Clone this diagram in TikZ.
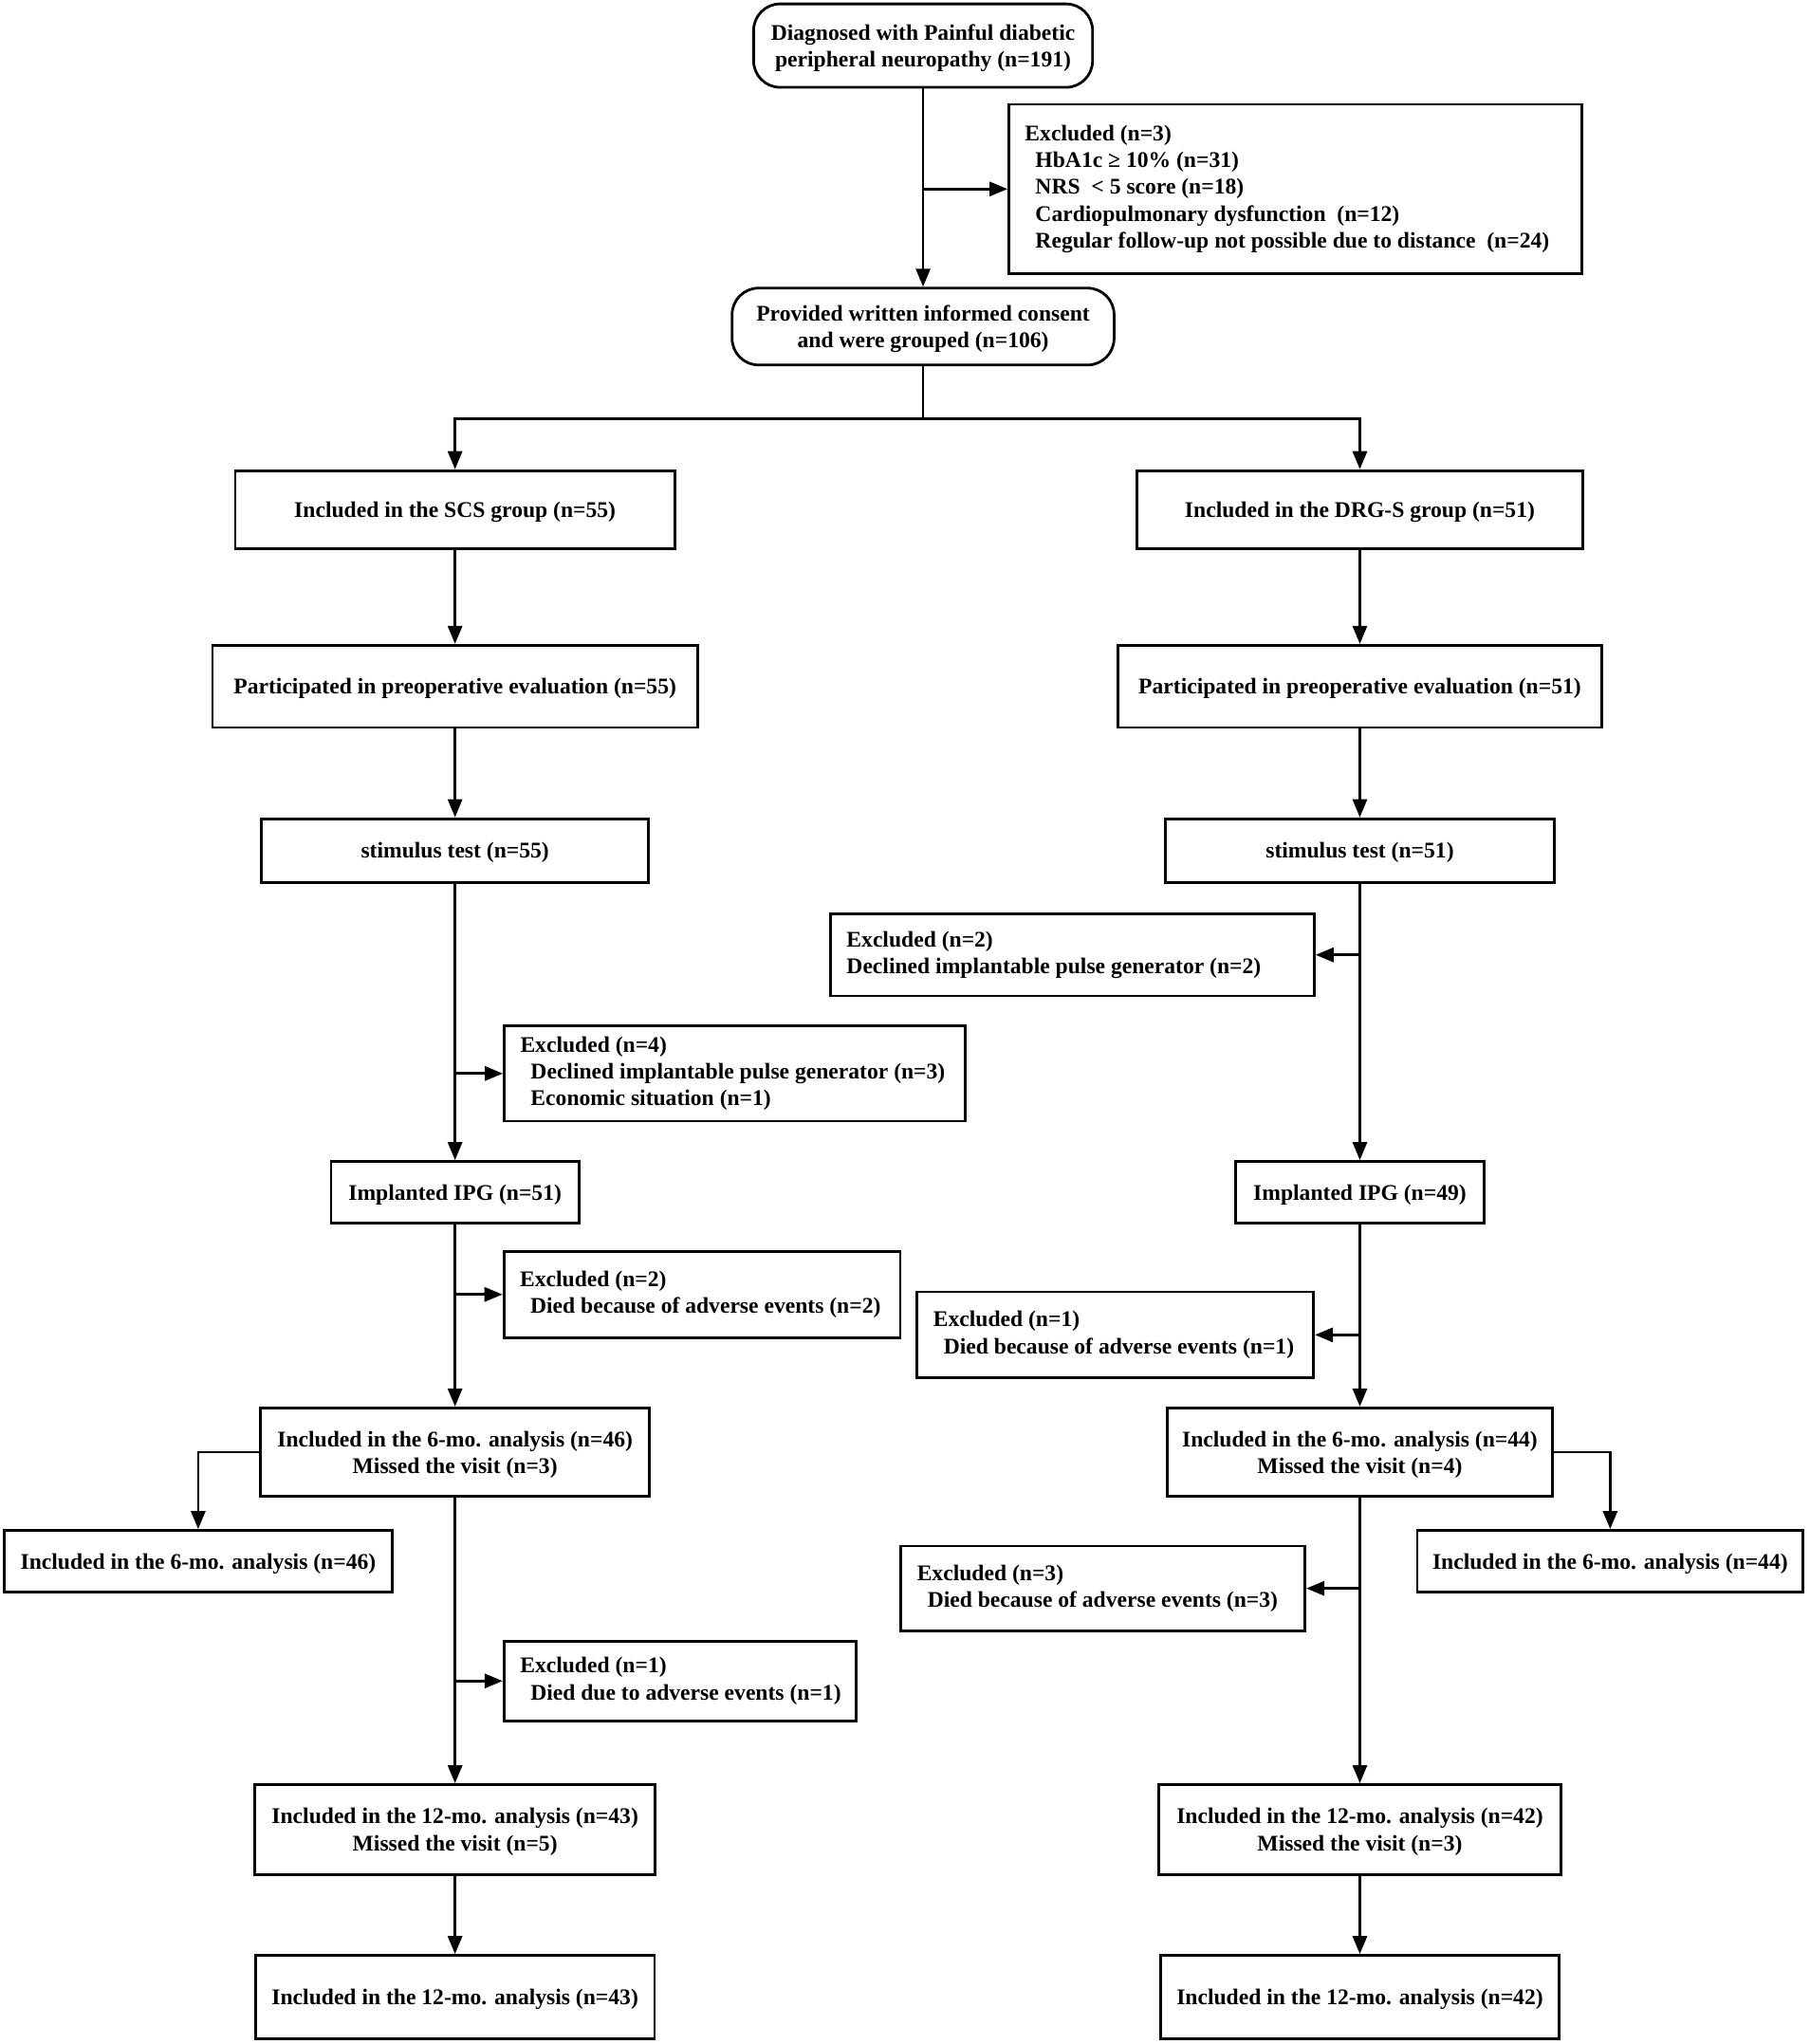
\documentclass[tikz,border=0pt]{standalone}
\usepackage{fontspec}
\setmainfont{Liberation Serif}
\usetikzlibrary{arrows.meta}
\def\pxu{0.6873pt}
\newcommand{\subline}[1]{\mbox{\hspace*{5.5pt}#1}}
\begin{document}
\begin{tikzpicture}[x=0.6873pt, y=-0.6873pt,
    font=\fontsize{11.8}{14.2}\selectfont\bfseries,
    line/.style={line width=1.4pt},
    arr/.style={line, -{Triangle[length=9.5pt, width=7.5pt]}},
    flowbox/.style 2 args={draw, line, align=center, inner sep=0pt, text depth=0pt,
        minimum width=#1*\pxu, minimum height=#2*\pxu},
    roundbox/.style 2 args={flowbox={#1}{#2}, rounded corners=14pt},
    exbox/.style 2 args={draw, line, align=flush left, inner xsep=8.5pt, inner ysep=0pt,
        text width=#1pt, minimum height=#2pt}]
    \useasboundingbox (0,0) rectangle (1388,1568);

    % 入组
    \node[roundbox={260}{64}] (diag) at (708,35) {Diagnosed with Painful diabetic\\peripheral neuropathy (n=191)};
    \node[exbox={285}{89.3}] (ex0) at (993.5,145) {\mbox{Excluded (n=3)}\\
        \subline{HbA1c ≥ 10\% (n=31)}\\
        \subline{NRS \ < 5 score (n=18)}\\
        \subline{Cardiopulmonary dysfunction \ (n=12)}\\
        \subline{Regular follow-up not possible due to distance \ (n=24)}};
    \node[roundbox={293}{59}] (consent) at (708,250.5) {Provided written informed consent\\and were grouped (n=106)};
    \coordinate (split) at (708,321);

    % SCS 组
    \node[flowbox={337}{60}] (scs) at (349,391) {Included in the SCS group (n=55)};
    \node[flowbox={372}{63}] (preS) at (349,526.5) {Participated in preoperative evaluation (n=55)};
    \node[flowbox={297}{49}] (stimS) at (349,652.5) {stimulus test (n=55)};
    \node[exbox={226}{50.2}] (exS1) at (563.5,823.5) {\mbox{Excluded (n=4)}\\
        \subline{Declined implantable pulse generator (n=3)}\\
        \subline{Economic situation (n=1)}};
    \node[flowbox={190}{47}] (ipgS) at (349,914.5) {Implanted IPG (n=51)};
    \node[exbox={192}{45.4}] (exS2) at (538.5,993) {\mbox{Excluded (n=2)}\\
        \subline{Died because of adverse events (n=2)}};
    \node[flowbox={298}{68}] (sixS) at (349,1114) {Included in the 6-mo. analysis (n=46)\\Missed the visit (n=3)};
    \node[flowbox={298}{47}] (sideS) at (152,1197.5) {Included in the 6-mo. analysis (n=46)};
    \node[exbox={168.5}{41.9}] (exS3) at (521.5,1289.5) {\mbox{Excluded (n=1)}\\
        \subline{Died due to adverse events (n=1)}};
    \node[flowbox={307}{69}] (twS) at (349,1403.5) {Included in the 12-mo. analysis (n=43)\\Missed the visit (n=5)};
    \node[flowbox={306}{64}] (finS) at (349,1532) {Included in the 12-mo. analysis (n=43)};

    % DRG-S 组
    \node[flowbox={342}{60}] (drg) at (1043,391) {Included in the DRG-S group (n=51)};
    \node[flowbox={371}{63}] (preD) at (1043,526.5) {Participated in preoperative evaluation (n=51)};
    \node[flowbox={298}{49}] (stimD) at (1043,652.5) {stimulus test (n=51)};
    \node[exbox={238}{43.3}] (exD1) at (822.5,732.5) {\mbox{Excluded (n=2)}\\
        \mbox{Declined implantable pulse generator (n=2)}};
    \node[flowbox={191}{47}] (ipgD) at (1043,914.5) {Implanted IPG (n=49)};
    \node[exbox={192}{45.4}] (exD2) at (855.5,1024) {\mbox{Excluded (n=1)}\\
        \subline{Died because of adverse events (n=1)}};
    \node[flowbox={295}{68}] (sixD) at (1043,1114) {Included in the 6-mo. analysis (n=44)\\Missed the visit (n=4)};
    \node[flowbox={296}{47}] (sideD) at (1235,1197.5) {Included in the 6-mo. analysis (n=44)};
    \node[exbox={196}{44.7}] (exD3) at (846,1218.5) {\mbox{Excluded (n=3)}\\
        \subline{Died because of adverse events (n=3)}};
    \node[flowbox={308}{69}] (twD) at (1043,1403.5) {Included in the 12-mo. analysis (n=42)\\Missed the visit (n=3)};
    \node[flowbox={306}{64}] (finD) at (1043,1532) {Included in the 12-mo. analysis (n=42)};

    % 连线
    \draw[arr] (diag) -- (consent);
    \draw[arr] (diag.south |- ex0.west) -- (ex0.west);
    \draw[line] (consent) -- (split);
    \draw[arr] (split) -| (scs.north);
    \draw[arr] (split) -| (drg.north);

    \draw[arr] (scs) -- (preS);
    \draw[arr] (preS) -- (stimS);
    \draw[arr] (stimS) -- (ipgS);
    \draw[arr] (stimS.south |- exS1.west) -- (exS1.west);
    \draw[arr] (ipgS) -- (sixS);
    \draw[arr] (ipgS.south |- exS2.west) -- (exS2.west);
    \draw[arr] (sixS.west) -| (sideS.north);
    \draw[arr] (sixS) -- (twS);
    \draw[arr] (sixS.south |- exS3.west) -- (exS3.west);
    \draw[arr] (twS) -- (finS);

    \draw[arr] (drg) -- (preD);
    \draw[arr] (preD) -- (stimD);
    \draw[arr] (stimD) -- (ipgD);
    \draw[arr] (stimD.south |- exD1.east) -- (exD1.east);
    \draw[arr] (ipgD) -- (sixD);
    \draw[arr] (ipgD.south |- exD2.east) -- (exD2.east);
    \draw[arr] (sixD.east) -| (sideD.north);
    \draw[arr] (sixD) -- (twD);
    \draw[arr] (sixD.south |- exD3.east) -- (exD3.east);
    \draw[arr] (twD) -- (finD);
\end{tikzpicture}
\end{document}
